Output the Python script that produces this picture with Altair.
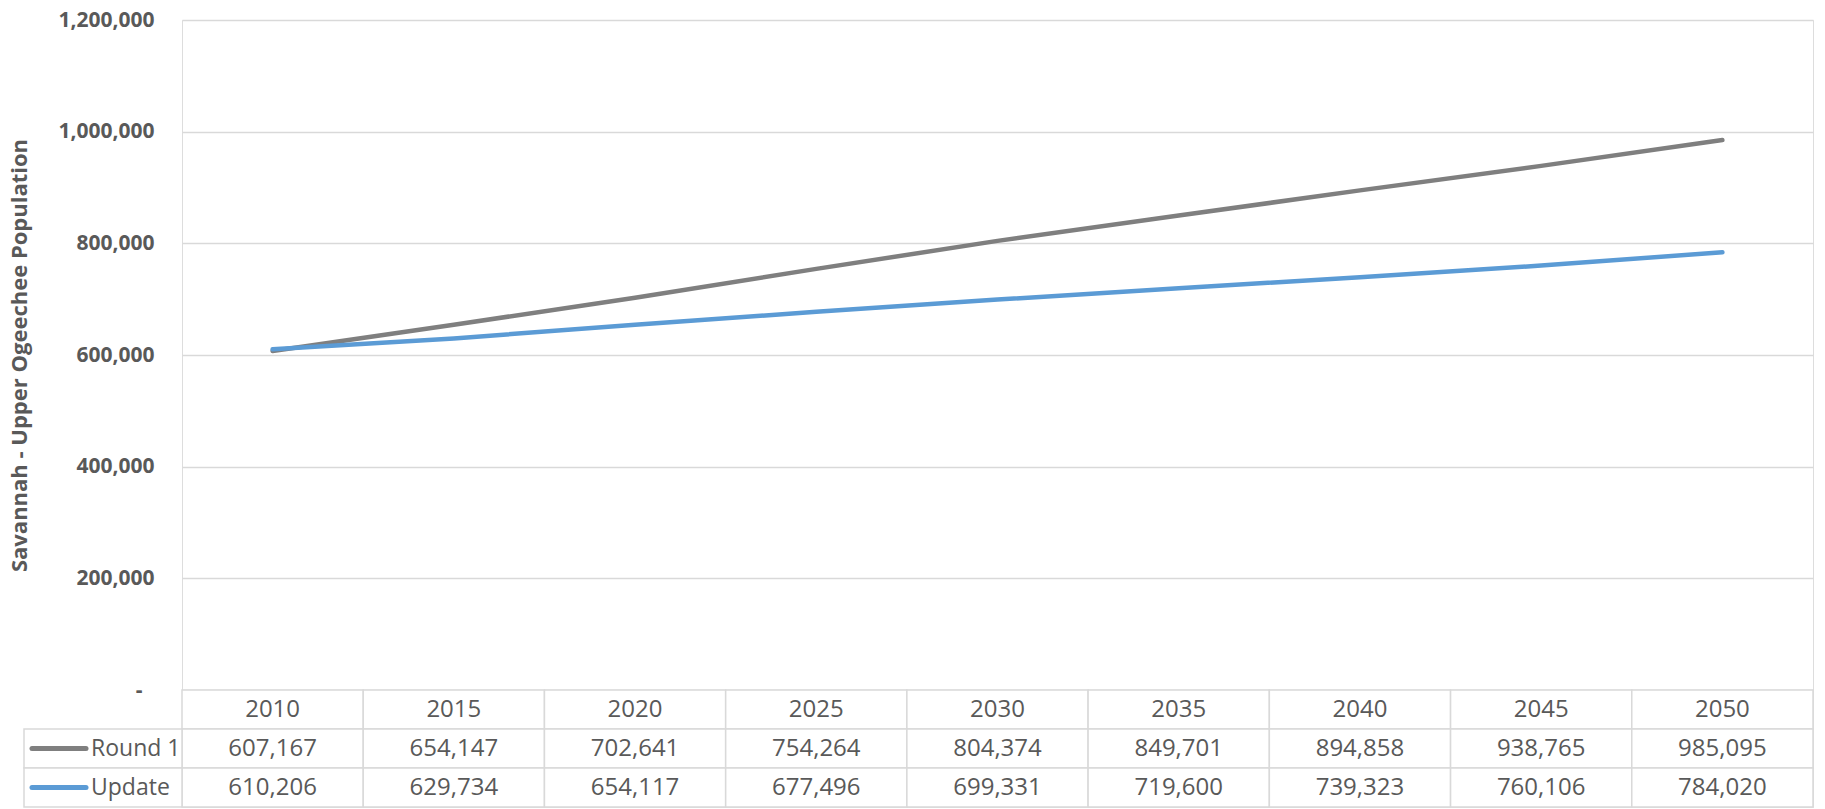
import altair as alt
import pandas as pd

# ---- data ----
years = ["2010", "2015", "2020", "2025", "2030", "2035", "2040", "2045", "2050"]
round1 = [607167, 654147, 702641, 754264, 804374, 849701, 894858, 938765, 985095]
update = [610206, 629734, 654117, 677496, 699331, 719600, 739323, 760106, 784020]
series_names = ["Round 1", "Update"]
series_colors = ["#7F7F7F", "#5B9BD5"]
y_tick_values = [0, 200000, 400000, 600000, 800000, 1000000, 1200000]
y_title = "Savannah - Upper Ogeechee Population"

FONT = "Open Sans"
TEXT = "#595959"
GRID = "#D9D9D9"
W = 1631
H_PLOT = 670
H_TABLE = 117

# long tables built from the arrays
line_df = pd.DataFrame(
    [{"year": y, "series": series_names[0], "value": v} for y, v in zip(years, round1)]
    + [{"year": y, "series": series_names[1], "value": v} for y, v in zip(years, update)]
)
rows = ["header"] + series_names
table_df = pd.DataFrame(
    [{"row": "header", "year": y, "text": y} for y in years]
    + [{"row": series_names[0], "year": y, "text": f"{v:,}"} for y, v in zip(years, round1)]
    + [{"row": series_names[1], "year": y, "text": f"{v:,}"} for y, v in zip(years, update)]
)
legend_df = pd.DataFrame({"row": series_names})

color_scale = alt.Scale(domain=series_names, range=series_colors)

# ---- line chart ----
lines = alt.Chart(line_df).mark_line(strokeWidth=4.5, strokeCap="round", strokeJoin="round").encode(
    x=alt.X("year:O", scale=alt.Scale(type="point", padding=0.5, domain=years), axis=None),
    y=alt.Y(
        "value:Q",
        scale=alt.Scale(domain=[0, 1200000], nice=False, zero=True),
        axis=alt.Axis(
            values=y_tick_values,
            title=y_title,
            labelExpr="datum.value == 0 ? '-' : format(datum.value, ',')",
            grid=True,
            gridColor=GRID,
            gridWidth=1.5,
            domain=False,
            ticks=False,
            labelPadding={"condition": {"test": "datum.value === 0", "value": 40}, "value": 28},
            labelFont=FONT,
            labelFontSize=21,
            labelFontWeight="bold",
            labelColor=TEXT,
            titleFont=FONT,
            titleFontSize=22,
            titleFontWeight="bold",
            titleColor=TEXT,
            titlePadding=26,
        ),
    ),
    color=alt.Color("series:N", scale=color_scale, legend=None),
).properties(width=W, height=H_PLOT)

# ---- data table ----
xb = alt.X("year:O", scale=alt.Scale(type="band", paddingInner=0, paddingOuter=0, domain=years), axis=None)
yb = alt.Y("row:N", scale=alt.Scale(domain=rows, paddingInner=0, paddingOuter=0), axis=None)

cells = alt.Chart(table_df).mark_rect(fill="white", stroke=GRID, strokeWidth=1.5).encode(x=xb, y=yb)
cell_text = alt.Chart(table_df).mark_text(font=FONT, fontSize=24, color=TEXT).encode(
    x=xb, y=yb, text="text:N"
)
leg_cells = alt.Chart(legend_df).mark_rect(fill="white", stroke=GRID, strokeWidth=1.5).encode(
    x=alt.value(-158), x2=alt.value(0), y=yb
)
swatches = alt.Chart(legend_df).mark_rule(strokeWidth=5, strokeCap="round").encode(
    x=alt.value(-150),
    x2=alt.value(-96),
    y=alt.Y("row:N", scale=alt.Scale(domain=rows, paddingInner=0, paddingOuter=0), axis=None, bandPosition=0.5),
    color=alt.Color("row:N", scale=color_scale, legend=None),
)
leg_text = alt.Chart(legend_df).mark_text(font=FONT, fontSize=23, color=TEXT, align="left").encode(
    x=alt.value(-91), y=yb, text="row:N"
)

table = alt.layer(cells, cell_text, leg_cells, swatches, leg_text).properties(width=W, height=H_TABLE)

chart = (
    alt.vconcat(lines, table, spacing=0, bounds="flush")
    .properties(padding={"left": 0, "top": 0, "right": 0, "bottom": 0})
    .configure_view(stroke=None)
    .configure(background="white")
)

chart.save("out.html", embed_options={"renderer": "svg", "actions": False})
